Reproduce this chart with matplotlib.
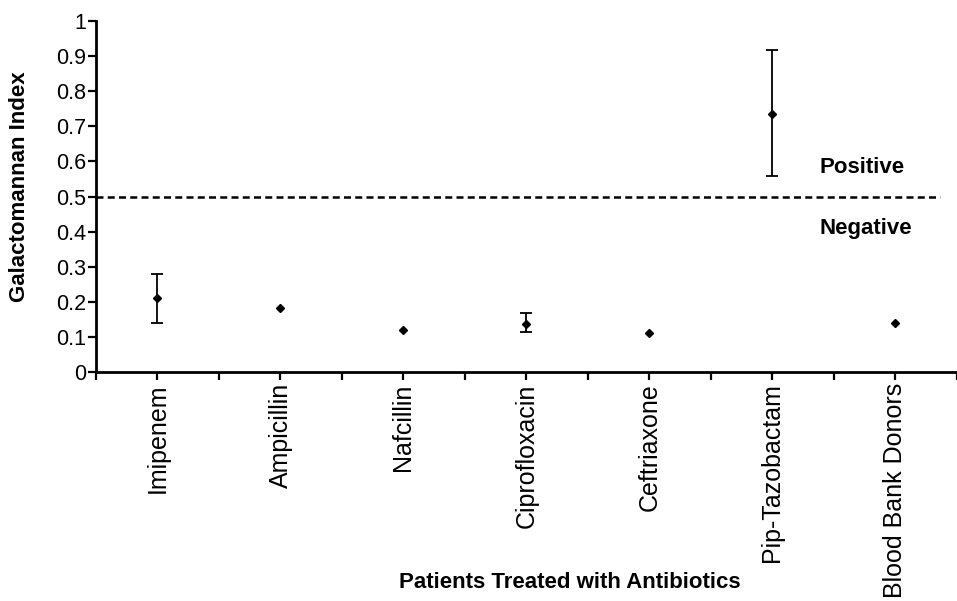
import matplotlib
matplotlib.use("Agg")
import matplotlib.pyplot as plt
import numpy as np

plt.rcParams['font.family'] = ['Liberation Sans', 'DejaVu Sans']

groups = ["Imipenem", "Ampicillin", "Nafcillin", "Ciprofloxacin",
          "Ceftriaxone", "Pip-Tazobactam", "Blood Bank Donors"]
gm_index = [0.212, 0.181, 0.120, 0.138, 0.112, 0.735, 0.139]
err_low = [0.073, 0.0, 0.0, 0.025, 0.0, 0.177, 0.0]
err_high = [0.068, 0.0, 0.0, 0.030, 0.0, 0.182, 0.0]
has_err = [True, False, False, True, False, True, False]
cutoff = 0.5
y_ticks = [0, 0.1, 0.2, 0.3, 0.4, 0.5, 0.6, 0.7, 0.8, 0.9, 1]
y_tick_labels = ["0", "0.1", "0.2", "0.3", "0.4", "0.5", "0.6", "0.7", "0.8", "0.9", "1"]

fig = plt.figure(figsize=(9.57, 6.01), dpi=100)
ax = fig.add_axes([0.1003, 0.381, 0.8997, 0.584])

x = np.arange(len(groups))
xe = [xi for xi, h in zip(x, has_err) if h]
ye = [v for v, h in zip(gm_index, has_err) if h]
lo = [v for v, h in zip(err_low, has_err) if h]
hi = [v for v, h in zip(err_high, has_err) if h]
ax.errorbar(xe, ye, yerr=[lo, hi], fmt="none", ecolor="black",
            elinewidth=1.3, capsize=4.5, capthick=1.3)
ax.plot(x, gm_index, "D", color="black", markersize=4.5, linestyle="none")

ax.axhline(cutoff, xmin=0, xmax=0.98, color="black", linewidth=1.8,
           linestyle=(0, (2.8, 1.7)))
ax.text(5.38, 0.584, "Positive", fontsize=16, fontweight="bold", va="center", ha="left")
ax.text(5.38, 0.41, "Negative", fontsize=16, fontweight="bold", va="center", ha="left")

ax.set_xlim(-0.5, 6.5)
ax.set_ylim(0, 1)
ax.set_yticks(y_ticks)
ax.set_yticklabels(y_tick_labels, fontsize=15.5)
ax.set_xticks(x)
ax.set_xticklabels(groups, rotation=90, fontsize=18, va="top", ha="center")
ax.set_xticks(np.arange(-0.5, 7, 1), minor=True)
ax.tick_params(axis="both", which="both", direction="out", length=6, width=1.6, color="black")
ax.tick_params(axis="y", pad=1)
ax.tick_params(axis="x", pad=2)

for side in ["top", "right"]:
    ax.spines[side].set_visible(False)
for side in ["left", "bottom"]:
    ax.spines[side].set_linewidth(2)

fig.text(20 / 957, 1 - 187 / 601, "Galactomannan Index", fontsize=16, fontweight="bold",
         rotation=90, ha="center", va="center")
fig.text(570 / 957, 1 - 582 / 601, "Patients Treated with Antibiotics", fontsize=16,
         fontweight="bold", ha="center", va="center")

fig.savefig("out.png", dpi=100)
